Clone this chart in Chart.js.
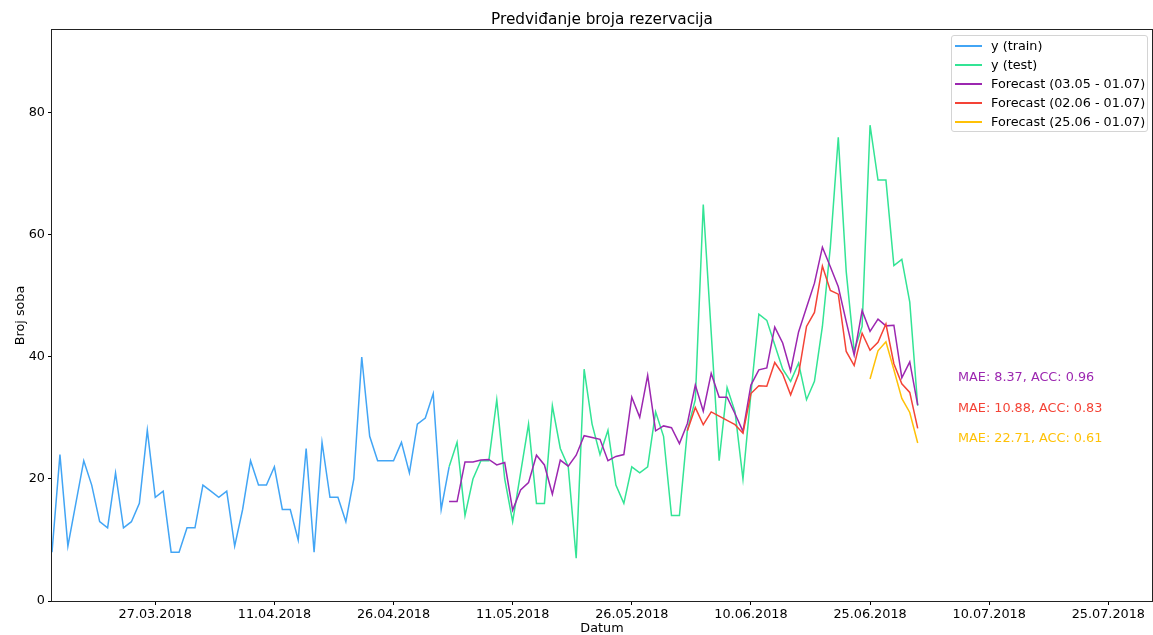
<!DOCTYPE html>
<html>
<head>
<meta charset="utf-8">
<title>Predviđanje broja rezervacija</title>
<script src="https://cdn.jsdelivr.net/npm/chart.js@4"></script>
<style>
  body { margin: 0; background: #fff; font-family: "DejaVu Sans", sans-serif; }
  #wrap { position: relative; width: 1153px; height: 635px; }
  #title {
    position: absolute; left: 52px; width: 1100px; top: 9px; height: 20px;
    text-align: center; font-size: 15.3px; line-height: 20px; color: #000;
  }
  #legend {
    position: absolute; left: 951px; top: 35px; width: 195px; height: 95px;
    border: 1px solid #d4d4d4; border-radius: 3px; background: rgba(255,255,255,0.8);
  }
  .item { position: absolute; left: 0; width: 195px; height: 19px; font-size: 12.8px; line-height: 19px; color: #000; white-space: nowrap; }
  .item .line { position: absolute; left: 3px; top: 9px; width: 27px; height: 1.5px; }
  .item .txt { position: absolute; left: 39px; top: 0; }
  .note { position: absolute; left: 958px; font-size: 12.8px; line-height: 16px; white-space: nowrap; }
</style>
</head>
<body>
<div id="wrap">
  <canvas id="forecastCanvas" width="1153" height="635"></canvas>
  <div id="title">Predviđanje broja rezervacija</div>
  <div id="legend"></div>
</div>
<script>
// dates are dd.mm.yyyy, one value per day starting at the given date
var trainStart = "14.03.2018";
var trainValues = [8, 24, 9, 16, 23, 19, 13, 12, 21, 12, 13, 16, 28,
  17, 18, 8, 8, 12, 12, 19, 18, 17, 18, 9, 15, 23, 19, 19, 22, 15, 15, 10, 25,
  8, 26, 17, 17, 13, 20, 40, 27, 23, 23, 23, 26, 21, 29, 30, 34, 15, 22];

var testStart = "03.05.2018";
var testValues = [22, 26, 14, 20, 23, 23, 33, 20, 13, 21, 29, 16, 16, 32, 25, 22,
  7, 38, 29, 24, 28, 19, 16, 22, 21, 22, 31, 27, 14, 14, 28, 33, 65, 44, 23, 35,
  31, 20, 34, 47, 46, 42, 38, 36, 39, 33, 36, 45, 58, 76, 54, 41, 45, 78, 69, 69,
  55, 56, 49, 32];

var forecastMayStart = "03.05.2018";
var forecastMayValues = [16.3, 16.3, 22.8, 22.8, 23.1, 23.2, 22.3, 22.7, 14.9, 18.2,
  19.4, 23.9, 22.3, 17.5, 23.1, 22.1, 23.9, 27.1, 26.8, 26.5, 23, 23.7, 24, 33.4,
  30.1, 37, 27.9, 28.7, 28.4, 25.8, 29.1, 35.4, 31.1, 37.3, 33.4, 33.4, 30.7, 27.8,
  35.4, 37.9, 38.2, 44.9, 42.3, 37.7, 44.1, 48.1, 52.1, 58, 54.8, 51.5, 45.8, 40.3,
  47.6, 44.2, 46.2, 45.1, 45.2, 36.6, 39.2, 32.1];

var forecastJuneStart = "02.06.2018";
var forecastJuneValues = [27.9, 31.7, 28.9, 31, 30.3, 29.6, 28.9, 27.5, 34, 35.3,
  35.2, 39.1, 37.2, 33.8, 37.2, 45, 47.3, 54.9, 50.9, 50.3, 40.9, 38.6, 43.9, 41.1,
  42.4, 45.4, 38.9, 35.6, 34.2, 28.3];

var forecastLateStart = "25.06.2018";
var forecastLateValues = [36.4, 41, 42.5, 37.9, 33.2, 30.9, 25.9];

var seriesLabels = ["y (train)", "y (test)", "Forecast (03.05 - 01.07)",
  "Forecast (02.06 - 01.07)", "Forecast (25.06 - 01.07)"];
var seriesColors = ["#42a5f5", "#33e495", "#9c27b0", "#f44336", "#ffc107"];

var xTickLabels = ["27.03.2018", "11.04.2018", "26.04.2018", "11.05.2018", "26.05.2018",
  "10.06.2018", "25.06.2018", "10.07.2018", "25.07.2018"];
var yTickValues = [0, 20, 40, 60, 80];

var scoreLabels = ["MAE: 8.37, ACC: 0.96", "MAE: 10.88, ACC: 0.83", "MAE: 22.71, ACC: 0.61"];

function toDay(s) {
  var p = s.split(".");
  return Date.UTC(+p[2], +p[1] - 1, +p[0]) / 864e5;
}
function fromDay(d) {
  var dt = new Date(Math.round(d) * 864e5);
  var dd = String(dt.getUTCDate()).padStart(2, "0");
  var mm = String(dt.getUTCMonth() + 1).padStart(2, "0");
  return dd + "." + mm + "." + dt.getUTCFullYear();
}
function points(start, values) {
  var d0 = toDay(start);
  return values.map(function (v, i) { return { x: d0 + i, y: v }; });
}

var series = [
  points(trainStart, trainValues),
  points(testStart, testValues),
  points(forecastMayStart, forecastMayValues),
  points(forecastJuneStart, forecastJuneValues),
  points(forecastLateStart, forecastLateValues)
];

var font = { family: "DejaVu Sans", size: 12.8 };

var frame = {
  id: "frame",
  afterDraw: function (chart) {
    var a = chart.chartArea, ctx = chart.ctx;
    ctx.save();
    ctx.strokeStyle = "#222";
    ctx.lineWidth = 1;
    ctx.strokeRect(a.left - 0.5, a.top - 0.5, a.right - a.left + 1, a.bottom - a.top + 1);
    ctx.restore();
  }
};

var ctx = document.getElementById("forecastCanvas").getContext("2d");
var forecastChart = new Chart(ctx, {
  type: "line",
  data: {
    datasets: series.map(function (pts, i) {
      return {
        label: seriesLabels[i],
        data: pts,
        borderColor: seriesColors[i],
        backgroundColor: seriesColors[i],
        borderWidth: 1.5,
        pointRadius: 0,
        tension: 0,
        fill: false,
        order: series.length - i
      };
    })
  },
  options: {
    responsive: false,
    animation: false,
    devicePixelRatio: 1,
    parsing: false,
    layout: { padding: { top: 30, right: 1 } },
    plugins: {
      legend: { display: false },
      tooltip: { enabled: false },
      title: { display: false }
    },
    scales: {
      x: {
        type: "linear",
        min: toDay(trainStart),
        max: toDay(xTickLabels[xTickLabels.length - 1]) + 5.5,
        afterBuildTicks: function (scale) {
          scale.ticks = xTickLabels.map(function (s) { return { value: toDay(s) }; });
        },
        afterFit: function (scale) { scale.height = 34; },
        ticks: {
          color: "#000",
          font: font,
          padding: 2,
          maxRotation: 0,
          autoSkip: false,
          callback: function (v) { return fromDay(v); }
        },
        grid: { drawOnChartArea: false, drawTicks: true, tickLength: 4, tickColor: "#000" },
        border: { display: false },
        title: {
          display: true,
          text: "Datum",
          color: "#000",
          font: { family: "DejaVu Sans", size: 12.8, lineHeight: 1 },
          padding: { top: 0, bottom: 0 }
        }
      },
      y: {
        min: 0,
        max: 93.6,
        afterBuildTicks: function (scale) {
          scale.ticks = yTickValues.map(function (v) { return { value: v }; });
        },
        afterFit: function (scale) { scale.width = 52; },
        ticks: { color: "#000", font: font, padding: 3 },
        grid: { drawOnChartArea: false, drawTicks: true, tickLength: 4, tickColor: "#000" },
        border: { display: false },
        title: {
          display: true,
          text: "Broj soba",
          color: "#000",
          font: { family: "DejaVu Sans", size: 12.8, lineHeight: 1 },
          padding: { top: 14, bottom: 0 }
        }
      }
    }
  },
  plugins: [frame]
});

// legend inside the plot, upper right, like the original
var legend = document.getElementById("legend");
seriesLabels.forEach(function (label, i) {
  var row = document.createElement("div");
  row.className = "item";
  row.style.top = (19 * i) + "px";
  row.innerHTML = '<span class="line" style="background:' + seriesColors[i] + '"></span>' +
    '<span class="txt"></span>';
  row.querySelector(".txt").textContent = label;
  legend.appendChild(row);
});

// error scores next to the forecasts
var wrap = document.getElementById("wrap");
var noteTops = [369, 400, 430];
scoreLabels.forEach(function (txt, i) {
  var n = document.createElement("div");
  n.className = "note";
  n.style.top = noteTops[i] + "px";
  n.style.color = seriesColors[i + 2];
  n.textContent = txt;
  wrap.appendChild(n);
});
</script>
</body>
</html>
